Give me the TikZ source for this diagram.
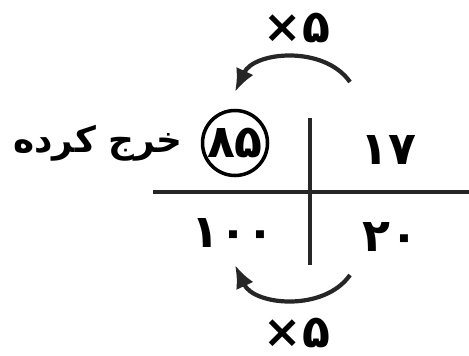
\documentclass[tikz,border=0pt]{standalone}
\usepackage{fontspec}
\TeXXeTstate=1
\newfontfamily\fafont[Script=Arabic]{DejaVu Sans}
\newfontfamily\numfont{DejaVu Sans}
\usetikzlibrary{arrows.meta,positioning}
\tikzset{
  grid/.style={line width=1.2pt,black!85},
  num/.style={font=\numfont\bfseries\fontsize{13}{15}\selectfont,inner sep=1pt},
  word/.style={font=\fafont\bfseries\fontsize{10.2}{12}\selectfont,inner sep=1pt},
  circled/.style={draw,circle,line width=1pt,minimum size=0.65cm,inner sep=0pt},
  turn/.style={-{Latex[length=2.3mm,width=1.9mm]},line width=1.2pt,black!85}
}
\begin{document}
\begin{tikzpicture}[x=1cm,y=1cm]
  \useasboundingbox (0,0) rectangle (4.69,3.55);
  % the cross
  \coordinate (hl) at (1.53,1.63);
  \coordinate (hr) at (4.69,1.63);
  \coordinate (vt) at (3.10,2.37);
  \coordinate (vb) at (3.10,0.90);
  \draw[grid] (hl) -- (hr);
  \draw[grid] (vt) -- (vb);
  % numbers
  \node[num] (n17) at (3.88,2.05) {۱۷};
  \node[num] (n20) at (3.90,1.18) {۲۰};
  \node[num] (n100) at (2.33,1.22) {۱۰۰};
  \node[num,circled] (n85) at (2.35,2.12) {۸۵};
  \node[word,left=0.14cm of n85] (spent) {\beginR خرج کرده\endR};
  % times five
  \coordinate (ta) at (3.50,2.73);
  \coordinate (tb) at (2.35,2.63);
  \coordinate (ba) at (3.50,0.80);
  \coordinate (bb) at (2.35,0.90);
  \draw[turn] (ta) to[bend right=60] (tb);
  \draw[turn] (ba) to[bend left=60] (bb);
  \node[num] (topx) at (2.97,3.27) {×۵};
  \node[num] (botx) at (2.97,0.22) {×۵};
\end{tikzpicture}
\end{document}
